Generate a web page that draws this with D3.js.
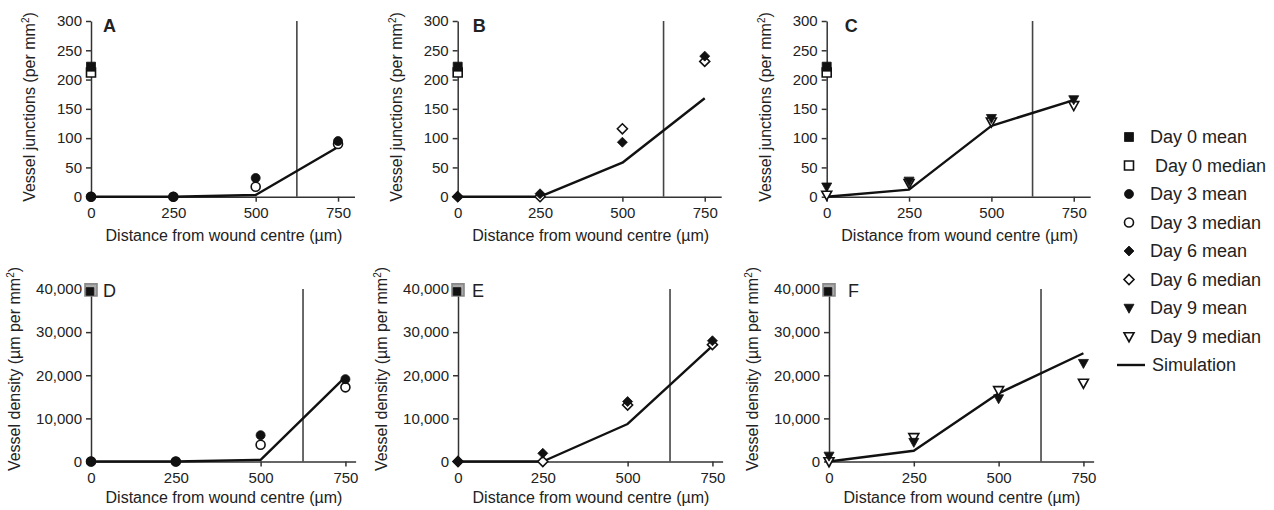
<!DOCTYPE html>
<html><head><meta charset="utf-8">
<script src="https://cdn.jsdelivr.net/npm/d3@7"></script>
<style>
body{margin:0;background:#fff;}
svg{display:block;}
text{font-family:"Liberation Sans",Arial,sans-serif;fill:#222;}
</style></head><body>
<svg id="chart" width="1274" height="510"></svg>
<script>
// ---------- data ----------
const distances = [0, 250, 500, 750];
const xTickValues = [0, 250, 500, 750];
const junctionTicks = [0, 50, 100, 150, 200, 250, 300];
const densityTicks = [0, 10000, 20000, 30000, 40000];
const woundEdge = 625;
const panelLetters = ["A", "B", "C", "D", "E", "F"];
const panelDays = [3, 6, 9];

const day0JunctionMean = 222, day0JunctionMedian = 212;
const day0DensityMean = 39200, day0DensityMedian = 39800;

const day3JunctionMean   = [0, 0, 32, 95];
const day3JunctionMedian = [0, 0, 17, 90];
const day6JunctionMean   = [0, 5, 93, 240];
const day6JunctionMedian = [0, 0, 116, 231];
const day9JunctionMean   = [17, 27, 134, 166];
const day9JunctionMedian = [3, 23, 128, 156];
const simJunction3 = [0, 0, 3, 85];
const simJunction6 = [0, 0, 58, 168];
const simJunction9 = [0, 12, 121, 165];

const day3DensityMean   = [0, 0, 6100, 19100];
const day3DensityMedian = [0, 0, 3900, 17200];
const day6DensityMean   = [0, 1900, 13900, 28000];
const day6DensityMedian = [0, 0, 13100, 27100];
const day9DensityMean   = [1300, 4500, 14600, 22800];
const day9DensityMedian = [0, 5600, 16500, 18200];
const simDensity3 = [0, 0, 400, 19600];
const simDensity6 = [0, 0, 8700, 26800];
const simDensity9 = [0, 2500, 15800, 25100];

const legendLabels = ["Day 0 mean", "Day 0 median", "Day 3 mean", "Day 3 median",
  "Day 6 mean", "Day 6 median", "Day 9 mean", "Day 9 median", "Simulation"];

// ---------- layout ----------
const svg = d3.select("#chart");
const rows = [
  {y0: 196.7, yTop: 21, xMax: 800, len: 263.5, yMax: 300, ticks: junctionTicks,
   fmt: d3.format("d"), titleDx: -56, titleCy: 107, xTitleY: 241, day0: [day0JunctionMean, day0JunctionMedian],
   title: ["Vessel junctions (per mm", "2", ")"], letterY: 32, letterWeight: "bold", day0Gray: false},
  {y0: 461.5, yTop: 289, xMax: 780, len: 264.6, yMax: 40000, ticks: densityTicks,
   fmt: d3.format(","), titleDx: -71, titleCy: 369, xTitleY: 503, day0: [day0DensityMean, day0DensityMedian],
   title: ["Vessel density (\u00b5m per mm", "2", ")"], letterY: 297, letterWeight: "normal", day0Gray: true}
];
const panels = [
  {row: 0, col: 0, ox: 91,    ldx: 12, mean: day3JunctionMean, median: day3JunctionMedian, sim: simJunction3},
  {row: 0, col: 1, ox: 457.7, ldx: 15, mean: day6JunctionMean, median: day6JunctionMedian, sim: simJunction6},
  {row: 0, col: 2, ox: 826.7, ldx: 18, mean: day9JunctionMean, median: day9JunctionMedian, sim: simJunction9},
  {row: 1, col: 0, ox: 91,    ldx: 12, mean: day3DensityMean, median: day3DensityMedian, sim: simDensity3},
  {row: 1, col: 1, ox: 458,   ldx: 14, mean: day6DensityMean, median: day6DensityMedian, sim: simDensity6},
  {row: 1, col: 2, ox: 829,   ldx: 19, mean: day9DensityMean, median: day9DensityMedian, sim: simDensity9}
];

// marker shapes
const shapes = {
  square: h => `M${-h},${-h}h${2*h}v${2*h}h${-2*h}Z`,
  circle: h => `M${-h},0a${h},${h} 0 1,0 ${2*h},0a${h},${h} 0 1,0 ${-2*h},0Z`,
  diamond: h => `M0,${-h}L${h},0L0,${h}L${-h},0Z`,
  triangle: h => `M${-h},${-h*0.75}L${h},${-h*0.75}L0,${h*1.05}Z`
};
const dayShape = {0: "square", 3: "circle", 6: "diamond", 9: "triangle"};
const shapeSize = {square: 4.5, circle: 4.5, diamond: 5, triangle: 5};

function marker(g, shape, x, y, filled, opts = {}) {
  const h = opts.h || shapeSize[shape];
  g.append("path")
    .attr("d", shapes[shape](h))
    .attr("transform", `translate(${x},${y})`)
    .attr("fill", opts.fill || (filled ? "#111" : "#fff"))
    .attr("stroke", opts.stroke || "#111")
    .attr("stroke-width", filled ? 0.8 : 1.6);
}

panels.forEach((p, i) => {
  const r = rows[p.row];
  const day = panelDays[p.col];
  const x = d3.scaleLinear().domain([0, r.xMax]).range([p.ox, p.ox + r.len]);
  const y = d3.scaleLinear().domain([0, r.yMax]).range([r.y0, r.yTop]);
  const g = svg.append("g");

  // axes
  const ax = g.append("g").attr("transform", `translate(0,${r.y0})`)
    .call(d3.axisBottom(x).tickValues(xTickValues).tickSize(5).tickSizeOuter(0).tickPadding(5.5));
  const ay = g.append("g").attr("transform", `translate(${p.ox},0)`)
    .call(d3.axisLeft(y).tickValues(r.ticks).tickFormat(r.fmt).tickSize(5).tickSizeOuter(0).tickPadding(4));
  [ax, ay].forEach(a => {
    a.selectAll("path,line").attr("stroke", "#333").attr("stroke-width", 1.5);
    a.selectAll("text").style("font-size", "15px").attr("fill", "#222");
  });

  // axis titles
  g.append("text").attr("x", p.ox + 133).attr("y", r.xTitleY).attr("text-anchor", "middle")
    .style("font-size", "16px").text("Distance from wound centre (\u00b5m)");
  const yt = g.append("text")
    .attr("transform", `translate(${p.ox + r.titleDx},${r.titleCy}) rotate(-90)`)
    .attr("text-anchor", "middle").style("font-size", "16px");
  yt.append("tspan").text(r.title[0]);
  yt.append("tspan").attr("dy", -6).style("font-size", "10px").text(r.title[1]);
  yt.append("tspan").attr("dy", 6).text(r.title[2]);

  // panel letter
  g.append("text").attr("x", p.ox + p.ldx).attr("y", r.letterY)
    .style("font-size", "18px").style("font-weight", r.letterWeight).text(panelLetters[i]);

  // wound edge line
  g.append("line").attr("x1", x(woundEdge)).attr("x2", x(woundEdge))
    .attr("y1", y(0)).attr("y2", y(r.yMax)).attr("stroke", "#444").attr("stroke-width", 1.6);

  // simulation
  g.append("path").datum(distances.map((d, k) => [d, p.sim[k]]))
    .attr("d", d3.line().x(d => x(d[0])).y(d => y(d[1])))
    .attr("fill", "none").attr("stroke", "#111").attr("stroke-width", 2.4).attr("stroke-linejoin", "round");

  // day 0 markers
  if (r.day0Gray) {
    marker(g, "square", x(0), y(r.day0[1]), false, {h: 6, fill: "#aaa", stroke: "#888"});
    marker(g, "square", x(0) - 1, y(r.day0[0]) - 1, true, {h: 3.8});
  } else {
    marker(g, "square", x(0), y(r.day0[1]), false);
    marker(g, "square", x(0), y(r.day0[0]), true);
  }
  // day n markers (median first, then mean on top)
  const shp = dayShape[day];
  distances.forEach((d, k) => marker(g, shp, x(d), y(p.median[k]), false));
  distances.forEach((d, k) => marker(g, shp, x(d), y(p.mean[k]), true));
});

// legend
const lg = svg.append("g");
const legendY = d3.scalePoint().domain(legendLabels).range([137, 365]);
const legendDays = [0, 0, 3, 3, 6, 6, 9, 9];
legendLabels.forEach((lab, i) => {
  const yy = legendY(lab);
  if (i < 8) {
    marker(lg, dayShape[legendDays[i]], 1129, yy, i % 2 === 0);
    lg.append("text").attr("x", i === 1 ? 1155 : 1150).attr("y", yy).attr("dy", "0.36em")
      .style("font-size", "18px").text(lab);
  } else {
    lg.append("line").attr("x1", 1117).attr("x2", 1145).attr("y1", yy).attr("y2", yy)
      .attr("stroke", "#111").attr("stroke-width", 2.4);
    lg.append("text").attr("x", 1152).attr("y", yy).attr("dy", "0.36em")
      .style("font-size", "18px").text(lab);
  }
});
</script>
</body></html>
